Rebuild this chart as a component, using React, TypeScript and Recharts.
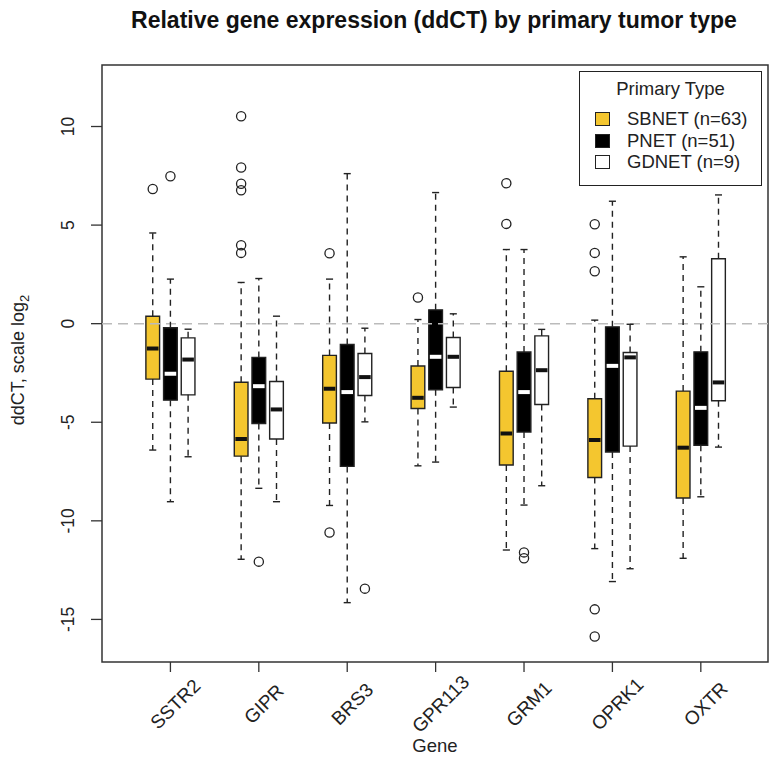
import React from 'react';
import { ComposedChart, XAxis, YAxis, ReferenceArea, ReferenceLine, Scatter, Label } from 'recharts';

const genes = ['SSTR2', 'GIPR', 'BRS3', 'GPR113', 'GRM1', 'OPRK1', 'OXTR'];
const groupNames = ['SBNET (n=63)', 'PNET (n=51)', 'GDNET (n=9)'];
const legendTitle = 'Primary Type';
const chartTitle = 'Relative gene expression (ddCT) by primary tumor type';
const xLabel = 'Gene';
const yTicks = [-15, -10, -5, 0, 5, 10];
const geneTicks = [1, 2, 3, 4, 5, 6, 7];

// [lower whisker, Q1, median, Q3, upper whisker] per gene
const sbnetStats = [
  [-6.41, -2.81, -1.26, 0.38, 4.6],
  [-11.95, -6.72, -5.85, -2.97, 2.09],
  [-9.22, -5.04, -3.3, -1.61, 2.26],
  [-7.21, -4.3, -3.76, -2.15, 0.21],
  [-11.48, -7.17, -5.57, -2.41, 3.76],
  [-11.41, -7.8, -5.9, -3.81, 0.18],
  [-11.9, -8.84, -6.29, -3.42, 3.39],
];
const pnetStats = [
  [-9.03, -3.88, -2.54, -0.21, 2.26],
  [-8.35, -5.06, -3.17, -1.71, 2.29],
  [-14.15, -7.24, -3.47, -1.06, 7.61],
  [-7.02, -3.35, -1.68, 0.7, 6.65],
  [-9.2, -5.5, -3.47, -1.44, 3.76],
  [-13.08, -6.51, -2.14, -0.16, 6.21],
  [-8.78, -6.17, -4.27, -1.43, 1.87],
];
const gdnetStats = [
  [-6.75, -3.61, -1.82, -0.72, -0.28],
  [-9.03, -5.85, -4.35, -2.93, 0.38],
  [-4.98, -3.64, -2.71, -1.51, -0.23],
  [-4.23, -3.24, -1.68, -0.7, 0.5],
  [-8.22, -4.1, -2.36, -0.62, -0.29],
  [-12.43, -6.21, -1.71, -1.46, -0.03],
  [-6.26, -3.91, -2.98, 3.29, 6.53],
];

// outliers per gene
const sbnetOutliers = [
  [6.83],
  [10.52, 7.92, 7.1, 6.77, 3.98, 3.59],
  [3.57, -10.59],
  [1.33],
  [7.12, 5.06],
  [5.04, 3.59, 2.66, -14.49, -15.87],
  [],
];
const pnetOutliers = [[7.48], [-12.07], [], [], [-11.6, -11.9], [], []];
const gdnetOutliers = [[], [], [-13.44], [], [], [], []];

// styles / layout
const FONT = '"Liberation Sans", Arial, Helvetica, sans-serif';
const YELLOW = '#F4C62F';
const INK = '#222';
const xDomain = [0.226, 7.76];
const yDomain = [-17.16, 13.12];
const offsets = [-0.2, 0, 0.2];
const halfBox = 0.0775;
const halfStaple = 0.04;

const series = [
  { name: groupNames[0], stats: sbnetStats, outliers: sbnetOutliers, fill: YELLOW, median: '#111' },
  { name: groupNames[1], stats: pnetStats, outliers: pnetOutliers, fill: '#000', median: '#fff' },
  { name: groupNames[2], stats: gdnetStats, outliers: gdnetOutliers, fill: '#fff', median: '#111' },
];

const outlierData = series.map((s, k) =>
  s.outliers.flatMap((vals, i) => vals.map((v) => ({ x: i + 1 + offsets[k], y: v })))
);

const OpenCircle = (props: any) => (
  <circle cx={props.cx} cy={props.cy} r={4.6} fill="none" stroke={INK} strokeWidth={1.3} />
);

const XTick = (props: any) => {
  const { x, y, payload } = props;
  const cx = x + 5;
  const cy = y + 30;
  return (
    <text
      x={cx}
      y={cy}
      transform={`rotate(-45, ${cx}, ${cy})`}
      textAnchor="middle"
      dominantBaseline="central"
      fontSize={19}
      fontFamily={FONT}
      fill="#222"
    >
      {genes[payload.value - 1]}
    </text>
  );
};

const YTick = (props: any) => {
  const { x, y, payload } = props;
  const tx = x - 15;
  return (
    <text
      x={tx}
      y={y}
      transform={`rotate(-90, ${tx}, ${y})`}
      textAnchor="middle"
      fontSize={17.5}
      fontFamily={FONT}
      fill="#222"
    >
      {payload.value}
    </text>
  );
};

const YLabelContent = () => (
  <text
    x={24}
    y={360}
    transform="rotate(-90, 24, 360)"
    textAnchor="middle"
    fontSize={18}
    fontFamily={FONT}
    fill="#222"
  >
    ddCT, scale log
    <tspan fontSize={13} dy={5}>2</tspan>
  </text>
);

const XLabelContent = () => (
  <text x={435} y={752} textAnchor="middle" fontSize={18.5} fontFamily={FONT} fill="#222">
    {xLabel}
  </text>
);

function buildBoxes() {
  const whiskers: any[] = [];
  const boxes: any[] = [];
  const medians: any[] = [];
  series.forEach((s, k) => {
    s.stats.forEach((st, i) => {
      const [lo, q1, med, q3, hi] = st;
      const x = i + 1 + offsets[k];
      const key = `${k}-${i}`;
      whiskers.push(
        <ReferenceLine key={`wu${key}`} segment={[{ x, y: q3 }, { x, y: hi }]} stroke={INK} strokeWidth={1.4} strokeDasharray="6 5" />,
        <ReferenceLine key={`wl${key}`} segment={[{ x, y: q1 }, { x, y: lo }]} stroke={INK} strokeWidth={1.4} strokeDasharray="6 5" />,
        <ReferenceLine key={`su${key}`} segment={[{ x: x - halfStaple, y: hi }, { x: x + halfStaple, y: hi }]} stroke={INK} strokeWidth={1.4} />,
        <ReferenceLine key={`sl${key}`} segment={[{ x: x - halfStaple, y: lo }, { x: x + halfStaple, y: lo }]} stroke={INK} strokeWidth={1.4} />
      );
      boxes.push(
        <ReferenceArea key={`b${key}`} x1={x - halfBox} x2={x + halfBox} y1={q1} y2={q3} fill={s.fill} fillOpacity={1} stroke={INK} strokeWidth={1.4} />
      );
      medians.push(
        <ReferenceLine key={`m${key}`} segment={[{ x: x - halfBox + 0.012, y: med }, { x: x + halfBox - 0.012, y: med }]} stroke={s.median} strokeWidth={4} />
      );
    });
  });
  return { whiskers, boxes, medians };
}

const LegendBox = () => (
  <div
    style={{
      position: 'absolute',
      left: 579,
      top: 71,
      width: 181,
      height: 113,
      border: `1.5px solid ${INK}`,
      background: '#fff',
      fontFamily: FONT,
      color: '#222',
    }}
  >
    <div style={{ position: 'absolute', left: 0, width: 181, top: 6, textAlign: 'center', fontSize: 18.5, lineHeight: '22px' }}>
      {legendTitle}
    </div>
    {series.map((s, k) => (
      <div key={s.name} style={{ position: 'absolute', left: 0, top: 36 + k * 21.7, height: 22, width: 181 }}>
        <div
          style={{
            position: 'absolute',
            left: 15,
            top: 4,
            width: 13,
            height: 12,
            background: s.fill,
            border: `1.3px solid ${INK}`,
          }}
        />
        <div style={{ position: 'absolute', left: 47, top: 0, fontSize: 18.5, lineHeight: '22px', whiteSpace: 'nowrap' }}>
          {s.name}
        </div>
      </div>
    ))}
  </div>
);

export default function App() {
  const { whiskers, boxes, medians } = buildBoxes();
  return (
    <div style={{ position: 'absolute', left: 0, top: 0, width: 779, height: 760, background: '#fff' }}>
      <div
        style={{
          position: 'absolute',
          left: 0,
          top: 6,
          width: 868,
          textAlign: 'center',
          fontFamily: FONT,
          fontWeight: 'bold',
          fontSize: 23,
          lineHeight: '28px',
          color: '#111',
        }}
      >
        {chartTitle}
      </div>
      <ComposedChart width={779} height={760} margin={{ top: 65, right: 11, bottom: 38, left: 0 }}>
        <XAxis
          type="number"
          dataKey="x"
          domain={xDomain}
          allowDataOverflow
          ticks={geneTicks}
          interval={0}
          axisLine={false}
          tickLine={{ stroke: '#333', strokeWidth: 1.3 }}
          tickSize={10}
          height={60}
          tick={<XTick />}
        >
          <Label content={<XLabelContent />} />
        </XAxis>
        <YAxis
          type="number"
          dataKey="y"
          domain={yDomain}
          allowDataOverflow
          ticks={yTicks}
          interval={0}
          axisLine={false}
          tickLine={{ stroke: '#333', strokeWidth: 1.3 }}
          tickSize={11}
          width={102}
          tick={<YTick />}
        >
          <Label content={<YLabelContent />} />
        </YAxis>
        <ReferenceLine y={0} stroke="#bbb" strokeWidth={1.5} strokeDasharray="10 6" />
        {whiskers}
        {boxes}
        {medians}
        {series.map((s, k) => (
          <Scatter
            key={s.name}
            name={s.name}
            data={outlierData[k]}
            shape={<OpenCircle />}
            isAnimationActive={false}
            legendType="none"
          />
        ))}
        <ReferenceArea x1={xDomain[0]} x2={xDomain[1]} y1={yDomain[0]} y2={yDomain[1]} fill="none" stroke="#333" strokeWidth={1.5} />
      </ComposedChart>
      <LegendBox />
    </div>
  );
}
